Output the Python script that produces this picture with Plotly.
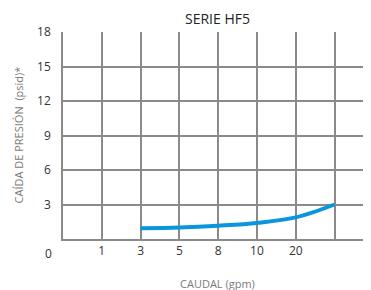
import plotly.graph_objects as go

# Flow steps (categorical positions on the x axis)
flow_steps = [0, 1, 3, 5, 8, 10, 20, 30]
tick_labels = ["1", "3", "5", "8", "10", "20"]
tick_flows = [1, 3, 5, 8, 10, 20]

# Curve: flow (gpm) vs pressure drop (psid)
curve_flow = [3, 5, 8, 10, 20, 30]
curve_drop = [0.93, 1.0, 1.16, 1.4, 1.88, 3.0]

y_ticks = [3, 6, 9, 12, 15, 18]

grid_color = "#8a8a8a"
font_family = "Open Sans, Noto Sans, sans-serif"

x_pos = [flow_steps.index(f) for f in curve_flow]
tick_pos = [flow_steps.index(f) for f in tick_flows]

fig = go.Figure()
fig.add_trace(go.Scatter(
    x=x_pos, y=curve_drop, mode="lines",
    line=dict(color="#0a96dc", width=4, shape="spline", smoothing=1.0),
    showlegend=False, hoverinfo="skip",
))

# page body has an 8px margin, so the figure is drawn 8px in from the window edges
fig.update_layout(
    width=363, height=282,
    margin=dict(l=55, r=0, t=24, b=51, autoexpand=False),
    paper_bgcolor="white", plot_bgcolor="white",
    font=dict(family=font_family, color="#333333", size=12),
    xaxis=dict(
        range=[0, 7.94], tickmode="array", tickvals=tick_pos, ticktext=tick_labels,
        showgrid=True, gridcolor=grid_color, gridwidth=1.5,
        zeroline=False, automargin=False,
        showline=True, linecolor=grid_color, linewidth=1.5,
        ticks="", tickfont=dict(size=12, color="#333333"),
        fixedrange=True,
    ),
    yaxis=dict(
        range=[0, 18], tickmode="array", tickvals=y_ticks,
        showgrid=True, gridcolor=grid_color, gridwidth=1.5, zeroline=False,
        automargin=False,
        showline=True, linecolor=grid_color, linewidth=1.5,
        ticks="", ticklabelstandoff=8, tickfont=dict(size=12, color="#333333"),
        fixedrange=True,
    ),
)

# grid lines at every flow step
fig.update_xaxes(minor=dict(tickvals=list(range(len(flow_steps))), showgrid=True,
                            gridcolor=grid_color, gridwidth=1.5, ticks=""))

# title
fig.add_annotation(text="SERIE HF5", xref="paper", yref="paper", x=0.5, y=1,
                   yshift=14, xanchor="center", yanchor="middle", showarrow=False,
                   font=dict(size=14, color="#222222"))
# x-axis title
fig.add_annotation(text="CAUDAL (gpm)", xref="paper", yref="paper", x=0.5, y=0,
                   yshift=-44, xanchor="center", yanchor="middle", showarrow=False,
                   font=dict(size=11, color="#7a7a7a"))
# y-axis title
fig.add_annotation(text="CAÍDA DE PRESIÓN  (psid)*", xref="paper", yref="paper",
                   x=0, y=0.5, xshift=-45, xanchor="center", yanchor="middle",
                   textangle=-90, showarrow=False,
                   font=dict(size=11, color="#7a7a7a"))
# origin label
fig.add_annotation(text="0", xref="paper", yref="y", x=0, y=0, xanchor="right",
                   yanchor="top", xshift=-9, yshift=-4, showarrow=False,
                   font=dict(size=12, color="#333333"))

fig.write_html("out.html")
